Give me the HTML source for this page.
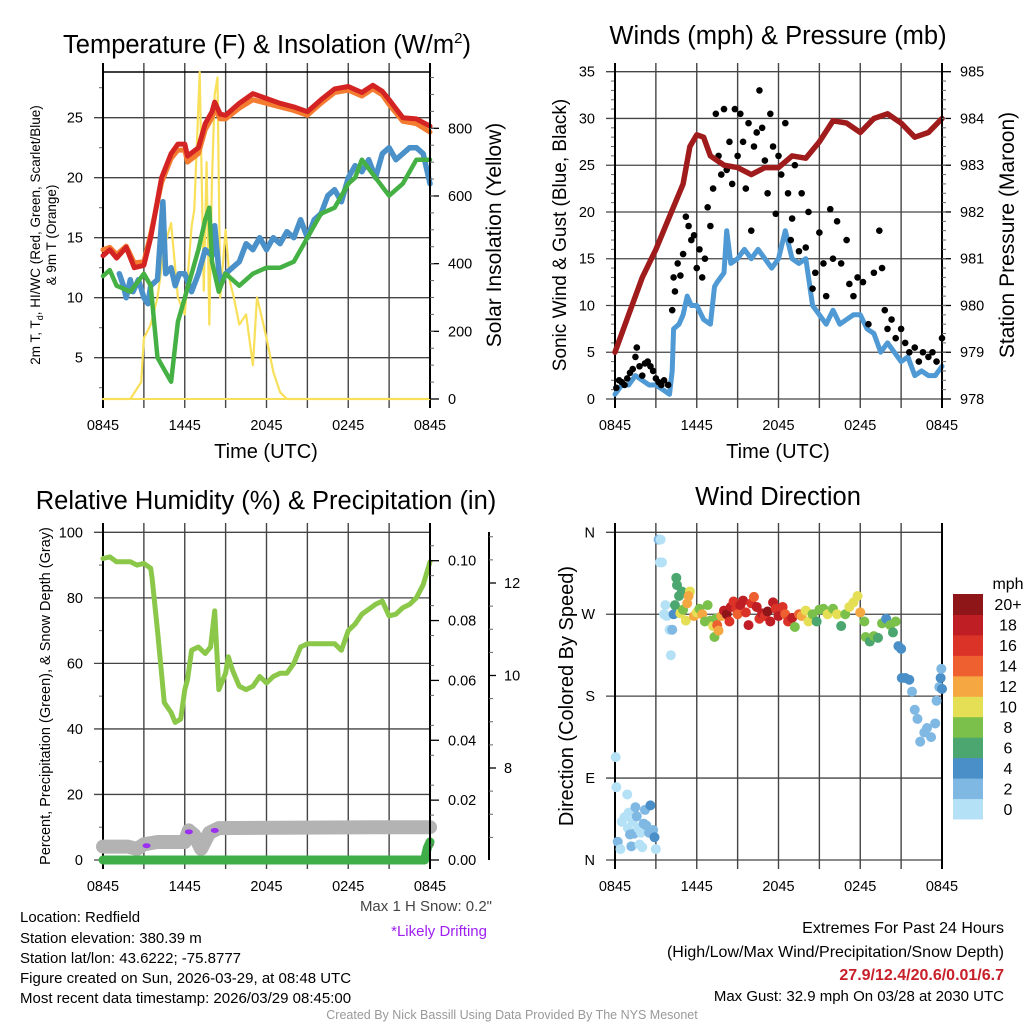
<!DOCTYPE html>
<html><head><meta charset="utf-8">
<style>
html,body{margin:0;padding:0;background:#fff;}
svg{display:block;font-family:"Liberation Sans",Arial,sans-serif;}
</style></head>
<body>
<svg id="fig" width="1024" height="1024" viewBox="0 0 1024 1024" xmlns="http://www.w3.org/2000/svg">
<rect width="1024" height="1024" fill="#fff"/>
<g id="p1"></g>
<g id="p2"></g>
<g id="p3"></g>
<g id="p4"></g>
<g id="txt">
<text x="20" y="922" font-size="15">Location: Redfield</text>
<text x="20" y="943" font-size="15">Station elevation: 380.39 m</text>
<text x="20" y="963" font-size="15">Station lat/lon: 43.6222; -75.8777</text>
<text x="20" y="983" font-size="15">Figure created on Sun, 2026-03-29, at 08:48 UTC</text>
<text x="20" y="1003" font-size="15">Most recent data timestamp: 2026/03/29 08:45:00</text>
<text x="492" y="911" font-size="15" fill="#444" text-anchor="end">Max 1 H Snow: 0.2"</text>
<text x="487" y="936" font-size="15" fill="#a020f0" text-anchor="end">*Likely Drifting</text>
<text x="512" y="1019" font-size="12.5" fill="#999" text-anchor="middle">Created By Nick Bassill Using Data Provided By The NYS Mesonet</text>
<text x="1004" y="933" font-size="16" text-anchor="end">Extremes For Past 24 Hours</text>
<text x="1004" y="957" font-size="16" text-anchor="end">(High/Low/Max Wind/Precipitation/Snow Depth)</text>
<text x="1004" y="980" font-size="16" font-weight="bold" fill="#c8202a" text-anchor="end">27.9/12.4/20.6/0.01/6.7</text>
<text x="1004" y="1001" font-size="15" text-anchor="end">Max Gust: 32.9 mph On 03/28 at 2030 UTC</text>
</g>
</svg>
<script>
// ---- data (hours since 0845 UTC) ----
const timeTicks = ["0845","1445","2045","0245","0845"];
const tempHours = [0,0.5,1,1.7,2.3,3,3.5,4.3,5,5.5,6,6.2,7,7.5,8,8.2,8.6,9,10,11,12,13,14,15,16,17,18,19,19.8,20.5,21,22,23,24];
const tempVals  = [13.5,14,13.3,14.2,12.5,12.7,15,20,22,22.8,22.8,21.8,22.5,24.5,25.5,26.3,25.3,25.2,26.2,27,26.6,26.2,25.9,25.5,26.5,27.4,27.6,27.1,27.7,27.2,26.5,25,24.9,24.3];
const temp9Vals = [14,14.2,13.6,14.3,12.9,13,15.3,19.6,21.6,22.3,22.3,21.3,22,24,25,25.8,24.9,24.9,25.8,26.5,26.2,25.9,25.6,25.2,26.2,27.1,27.3,26.8,27.4,26.9,26.1,24.7,24.5,23.8];
const wcHours = [1.2,1.5,1.7,2.0,2.2,2.6,3,3.3,3.5,4,4.4,4.6,5,5.3,5.6,6,6.5,7,7.5,8,8.2,8.6,9,9.5,10,10.5,11,11.5,12,12.5,13,13.5,14,14.5,15,15.5,16,16.5,17,17.5,18,18.5,19,19.5,20,20.5,21,21.5,22,22.5,23,23.5,24];
const wcVals  = [12,11,10,11.5,10.5,11.5,10,9.5,11,11.5,18,12,12.5,11,12,12,10.5,12,14,13.5,16,11,12,12.5,13,14.5,14,15,14,15,14.5,15.5,15,16.5,15,16.5,17,18.5,19,18,20,21,20.5,21.5,20,22,22.5,21.5,22,22.5,22.5,22,19.5];
const tdHours = [0,0.5,1,2,3,3.5,4,4.5,5,5.5,6,7,7.5,7.8,8,8.5,9,10,11,12,13,14,15,16,17,18,18.5,19,20,21,22,23,24];
const tdVals  = [11.8,12.3,11,10.5,12,11,5,4,3,8,10,14,16.5,17.5,13,10.5,12,11,12,12.5,12.5,13,15,17,17.5,19.5,20,21.5,20,18.5,19.5,21.5,21.5];
const solHours = [0,2,2.8,3,3.5,4,4.5,5,5.5,6,6.5,6.7,7.1,7.4,7.6,7.8,8,8.2,8.4,8.6,9,9.3,9.6,10,10.5,11,11.3,11.6,12,12.5,13,13.5,24];
const solVals  = [0,0,50,180,220,300,450,520,300,250,510,560,966,320,700,220,650,900,950,300,500,350,300,220,250,100,300,250,180,80,20,0,0];
const windHours = [0,0.5,1,1.5,2,2.5,3,3.5,4,4.2,4.3,4.7,5,5.3,5.6,6,6.5,7,7.3,7.5,8,8.2,8.5,9,9.5,10,10.5,11,11.5,12,12.5,13,13.5,14,14.5,15,15.5,16,16.5,17,17.5,18,18.5,19,19.5,20,20.5,21,21.5,22,22.5,23,23.5,24];
const windVals  = [0.5,1.5,1.5,2.5,2,1.5,1.5,1,0.5,3,7.5,8,9,11,10,10,8.5,8,12,12.5,13.5,18,14.5,15,16,15,16,15,14,15,18,15,14.5,15,10,9,8,9.5,8,8.5,9,9,7.5,7,5,6,5,4,4.5,2.5,3,2.5,2.5,3.5];
const presHours = [0,1,2,3,4,5,5.5,6,6.5,7,8,9,10,11,12,13,14,15,16,17,18,19,20,21,22,23,24];
const presVals  = [979,979.8,980.6,981.2,981.9,982.6,983.4,983.65,983.6,983.2,983,982.95,982.8,982.95,982.95,983.2,983.15,983.5,983.95,983.9,983.7,984,984.1,983.9,983.6,983.7,984];
const gustHours = [0.1,0.3,0.5,0.7,0.9,1.1,1.3,1.5,1.6,1.8,2,2.2,2.4,2.6,2.8,3,3.2,3.4,3.6,3.9,4.2,4.3,4.4,4.6,4.8,5,5.2,5.4,5.6,5.8,6,6.2,6.4,6.6,6.8,7,7.2,7.4,7.6,7.8,8,8.2,8.4,8.6,8.8,9,9.2,9.4,9.6,9.8,10,10.2,10.4,10.6,10.8,11,11.2,11.4,11.6,11.8,12,12.2,12.5,12.7,12.9,13,13.2,13.5,13.7,14,14.2,14.5,14.7,15,15.3,15.5,15.8,16,16.3,16.6,17,17.2,17.5,17.8,18.2,18.6,19,19.4,19.6,19.8,20,20.3,20.6,21,21.3,21.6,22,22.3,22.6,23,23.3,23.6,24];
const gustVals  = [1.2,2,1.8,1.5,2.2,2.8,3.2,4.5,5.5,3.5,2.5,3.8,4,3.5,3,2.2,1.8,1.5,2,1.5,9.5,13,11.5,14.5,13.2,15.5,19.5,18.5,17,17.5,14,16,13,15,20.5,18.5,22.5,30.5,26,24,31,24.5,27.5,23,31,26,30.5,27.5,22.5,29.5,18,27,28.5,33,29,25.5,22,30.5,27,19.8,26,24,29.5,22,17,19.3,25,15.8,22,16.2,20,11.8,13.5,17.8,14.5,11,20.3,15,19,14.5,17,12.3,11,13,12.5,8,13.5,18,14,9.5,7.5,8.5,6.5,7.5,6,5,5.5,4,5,4.5,5,4,6.5];
const rhHours = [0,0.5,1,2,2.5,3,3.5,3.6,4,4.5,5,5.3,5.7,6,6.2,6.5,7,7.5,7.9,8.2,8.5,8.8,9,9.2,9.5,10,10.5,11,11.5,12,12.5,13,13.5,14,14.5,15,16,17,17.5,18,18.5,19,20,20.5,21,21.5,22,22.5,23,23.5,24];
const rhVals  = [92,92.5,91,91,90,90.5,89,86,70,48,45,42,43,52,55,64,65,63,65,76,52,55,57,62,58,53,52,53,56,54,56,57,57,60,65,66,66,66,64,70,72,75,78,79,74.5,75,77,78,80,84,91];
const snowHours = [0,1.8,2.5,3,4,5,6,6.3,6.7,7.2,7.8,8.5,20,24];
const snowVals  = [6.3,6.3,6.25,6.35,6.4,6.4,6.4,6.65,6.55,6.25,6.6,6.7,6.72,6.72];
const driftHours = [3.2,6.3,8.2];
const driftVals  = [6.32,6.62,6.65];
const precipHours = [0,23.6,23.8,24];
const precipVals  = [0,0,0.004,0.006];
const dirHours = [0.05,0.1,0.2,0.4,0.5,0.7,0.9,0.95,1.0,1.1,1.2,1.3,1.4,1.5,1.6,1.7,1.8,1.9,2.0,2.1,2.2,2.3,2.5,2.6,2.8,2.9,3.0,3.2,3.35,3.3,3.45,3.7,3.8,3.6,4.0,4.2,4.1,4.3,4.4,4.5,4.55,4.7,4.9,4.8,5.0,5.2,5.3,5.5,5.4,5.8,6,6.2,6.4,6.6,6.8,7,7.2,7.4,7.3,7.5,7.6,7.8,8,8.2,8.4,8.5,8.7,8.9,9,9.2,9.4,9.6,9.8,10,10.2,10.4,10.6,10.8,11,11.2,11.4,11.6,11.8,12,12.3,12.5,12.7,13,13.2,13.5,13.7,14,14.2,14.5,14.8,15,15.3,15.6,16,16.3,16.6,16.9,17.2,17.5,17.8,18,18.3,18.4,18.7,19,19.3,19.6,19.9,20.2,20.4,20.6,20.8,21,21.05,21.3,21.6,21.8,22,22.2,22.4,22.7,22.9,23.2,23.5,23.6,23.8,23.9,23.95,24];
const dirVals  = [113,80,20,12,42,47,72,35,52,28,15,42,29,58,48,35,17,30,14,40,55,38,30,60,33,25,12,352,352,327,327,280,268,270,253,253,225,270,280,310,302,290,295,271,275,263,282,295,290,268,272,276,270,262,280,263,257,265,245,258,252,268,274,270,262,278,284,276,270,280,285,272,258,282,289,278,265,271,268,273,262,283,276,268,278,270,262,266,256,270,268,274,262,270,262,275,276,270,276,270,257,270,278,283,290,272,262,245,240,246,244,260,265,258,250,262,235,232,200,200,198,185,165,155,130,140,145,135,150,175,190,200,210,188];
const dirSpeeds = [0,0,3,0,0,0,1,0,1,3,3,1,3,3,3,0,1,0,1,2,3,2,3,4,3,4,1,2,1,0,1,0,1,0,0,2,0,4,6,6,6,6,6,10,8,11,12,10,12,12,10,9,12,8,8,9,10,8,8,14,12,13,18,20,16,18,16,16,14,18,18,16,18,16,14,18,16,18,16,20,18,18,16,18,16,14,16,18,8,14,12,10,10,8,6,8,8,10,8,10,6,8,10,10,10,12,8,8,6,8,6,8,4,8,6,8,4,4,4,4,4,2,2,2,2,2,2,2,2,2,2,4,2,4];
const cbLabels = ["0","2","4","6","8","10","12","14","16","18","20+"];
const cbColors = ["#b5e1f6","#7fb8e3","#4a8fc7","#4ba66f","#7bc04a","#e5df55","#f5a742","#ee6030","#db3328","#bf1e24","#8e1518"];

const NS="http://www.w3.org/2000/svg";
function el(parent,tag,attrs,text){const e=document.createElementNS(NS,tag);for(const k in attrs)e.setAttribute(k,attrs[k]);if(text!==undefined)e.textContent=text;parent.appendChild(e);return e;}
function lin(d0,d1,r0,r1){return v=>r0+(v-d0)/(d1-d0)*(r1-r0);}
function pathD(xs,ys,fx,fy){return xs.map((h,i)=>(i?"L":"M")+fx(h).toFixed(1)+","+fy(ys[i]).toFixed(1)).join("");}

function frame(g,L,R,T,B,yticks,fy,ylabs,minor){
  const fx=lin(0,24,L,R);
  yticks.forEach((v,i)=>{
    const y=fy(v);
    const ln=el(g,"line",{x1:L-9,x2:R,y1:y,y2:y,stroke:"#444","stroke-width":1.3});
    
    
    const t=el(g,"text",{x:L-20,y:y+5,"font-size":14.5,"text-anchor":"end"},ylabs[i]);
    
    
  });
  (minor||[]).forEach(v=>{const y=fy(v);const m=el(g,"line",{x1:L-4,x2:L,y1:y,y2:y,stroke:"#666","stroke-width":1});
    
    });
  for(let i=0;i<=8;i++){
    const x=fx(i*3);
    const ln=el(g,"line",{x1:x,x2:x,y1:T-9,y2:B+9,stroke:(i==0||i==8)?"#000":"#444","stroke-width":(i==0||i==8)?2:1.4});
    
    
  }
  timeTicks.forEach((s,i)=>{const t=el(g,"text",{x:fx(i*6),y:B+31,"font-size":14.5,"text-anchor":"middle"},s);
    
    });
  return fx;
}
function rightAxis(g,x,T,B,ticks,fy,labs,minor){
  const a=el(g,"line",{x1:x,x2:x,y1:T,y2:B,stroke:"#000","stroke-width":2});
  
  
  ticks.forEach((v,i)=>{const y=fy(v);el(g,"line",{x1:x,x2:x+9,y1:y,y2:y,stroke:"#000","stroke-width":1.3});
    const t=el(g,"text",{x:x+18,y:y+5,"font-size":14.5},labs[i]);
    
    });
  (minor||[]).forEach(v=>{const y=fy(v);el(g,"line",{x1:x,x2:x+4,y1:y,y2:y,stroke:"#666","stroke-width":1});});
}
function title(g,x,y,txt,name){const t=el(g,"text",{x:x,y:y,"font-size":25.5,"text-anchor":"middle"},txt);
  
  return t;}
function vlabel(g,x,y,txt,size,name){const t=el(g,"text",{x:0,y:0,"font-size":size,"text-anchor":"middle",transform:`translate(${x},${y}) rotate(-90)`},txt);
  
  return t;}
function line(g,d,color,w,name){const p=el(g,"path",{d:d,fill:"none",stroke:color,"stroke-width":w,"stroke-linejoin":"round","stroke-linecap":"round"});
  
  return p;}
function range(a,b,s){const r=[];for(let v=a;v<=b+1e-9;v+=s)r.push(+v.toFixed(4));return r;}

// ---------- Panel 1 ----------
(function(){
  const g=document.getElementById("p1"),L=103,R=430,T=72,B=399;
  const fy=lin(5,25,357.7,117.7), fs=lin(0,800,399,128.3);
  const fx=frame(g,L,R,T,B,[5,10,15,20,25],fy,["5","10","15","20","25"],range(2.5,27.5,5));
  el(g,"line",{x1:L,x2:R,y1:T,y2:T,stroke:"#000","stroke-width":1.5});
  el(g,"line",{x1:L,x2:R,y1:B,y2:B,stroke:"#000","stroke-width":1.5});
  line(g,pathD(solHours,solVals,fx,fs),"#f9e05a",2.2,"insolation-line");
  line(g,pathD(tempHours,temp9Vals,fx,fy),"#f47c30",5,"temp-9m-line");
  line(g,pathD(tempHours,tempVals,fx,fy),"#d42323",5,"temp-2m-line");
  line(g,pathD(wcHours,wcVals,fx,fy),"#4a90c9",5.5,"windchill-line");
  line(g,pathD(tdHours,tdVals,fx,fy),"#45b043",4.5,"dewpoint-line");
  el(g,"line",{x1:L,x2:R,y1:B,y2:B,stroke:"#f9e05a","stroke-width":2});
  rightAxis(g,R,T,B,[0,200,400,600,800],fs,["0","200","400","600","800"],range(50,950,50));
  const t=title(g,267,53,"Temperature (F) & Insolation (W/m");
  
  el(t,"tspan",{dy:-10,"font-size":15},"2");
  el(t,"tspan",{dy:10,"font-size":25.5},")");
  vlabel(g,40,235,"2m T, T",13.5,"left-axis-title-line1");
  const v1=g.lastChild; el(v1,"tspan",{dy:3,"font-size":9},"d"); el(v1,"tspan",{dy:-3},", HI/WC (Red, Green, Scarlet/Blue)");
  vlabel(g,56,235,"& 9m T (Orange)",13.5,"left-axis-title-line2");
  vlabel(g,501,235,"Solar Insolation (Yellow)",21,"insolation-axis-title");
  const xt=el(g,"text",{x:266,y:458,"font-size":20,"text-anchor":"middle"},"Time (UTC)");
  
  
})();

// ---------- Panel 2 ----------
(function(){
  const g=document.getElementById("p2"),L=615,R=942,T=72,B=399;
  const fy=lin(0,35,399,71.7), fp=lin(978,985,399,71.7);
  const fx=frame(g,L,R,T,B,[0,5,10,15,20,25,30,35],fy,["0","5","10","15","20","25","30","35"],range(1,34,1));
  line(g,pathD(windHours,windVals,fx,fy),"#4f9ad5",5,"sonic-wind-line");
  gustHours.forEach((h,i)=>{const c=el(g,"circle",{cx:fx(h),cy:fy(gustVals[i]),r:3.3,fill:"#000"});
    
    });
  line(g,pathD(presHours,presVals,fx,fp),"#a01b1b",5.5,"pressure-line");
  rightAxis(g,R,T,B,[978,979,980,981,982,983,984,985],fp,["978","979","980","981","982","983","984","985"],range(978.2,984.8,0.2));
  title(g,778,44,"Winds (mph) & Pressure (mb)","winds-title");
  vlabel(g,566,235,"Sonic Wind & Gust (Blue, Black)",19,"wind-axis-title");
  vlabel(g,1014,235,"Station Pressure (Maroon)",21,"pressure-axis-title");
  const xt=el(g,"text",{x:778,y:458,"font-size":20,"text-anchor":"middle"},"Time (UTC)");
  
  
})();

// ---------- Panel 3 ----------
(function(){
  const g=document.getElementById("p3"),L=103,R=430,T=532,B=860;
  const fy=lin(0,100,860,532.3), fr=lin(0,0.1,860,560.7), fsn=lin(8,12,768,583);
  const fx=frame(g,L,R,T,B,[0,20,40,60,80,100],fy,["0","20","40","60","80","100"],range(10,90,20));
  line(g,pathD(snowHours,snowVals,fx,fsn),"#b3b3b3",14,"snow-depth-line");
  driftHours.forEach((h,i)=>{const c=el(g,"ellipse",{cx:fx(h),cy:fsn(driftVals[i]),rx:4,ry:2.5,fill:"#9b30f0"});
    
    });
  line(g,pathD(precipHours,precipVals,fx,fr),"#3fae49",9,"precip-line");
  line(g,pathD(rhHours,rhVals,fx,fy),"#8bc84a",5,"rh-line");
  rightAxis(g,R,T,B,[0,0.02,0.04,0.06,0.08,0.1],fr,["0.00","0.02","0.04","0.06","0.08","0.10"],range(0.005,0.105,0.01));
  const ax=el(g,"line",{x1:489,x2:489,y1:532,y2:860,stroke:"#000","stroke-width":2});
  
  
  [8,10,12].forEach(v=>{const y=fsn(v);el(g,"line",{x1:489,x2:496,y1:y,y2:y,stroke:"#000","stroke-width":1.3});
    const t=el(g,"text",{x:504,y:y+5,"font-size":14.5},String(v));
    
    });
  range(6.5,13,0.5).forEach(v=>{if(v%2){const y=fsn(v);el(g,"line",{x1:489,x2:493,y1:y,y2:y,stroke:"#666","stroke-width":1});}});
  title(g,266,509,"Relative Humidity (%) & Precipitation (in)","humidity-title");
  vlabel(g,50,696,"Percent, Precipitation (Green), & Snow Depth (Gray)",14.5,"humidity-axis-title");
})();

// ---------- Panel 4 ----------
(function(){
  const g=document.getElementById("p4"),L=615,R=942,T=532,B=860;
  const fy=lin(0,360,860,532.3);
  const fx=frame(g,L,R,T,B,[0,90,180,270,360],fy,["N","E","S","W","N"]);
  dirHours.forEach((h,i)=>{const b=Math.min(10,Math.floor(dirSpeeds[i]/2));
    const c=el(g,"circle",{cx:fx(h),cy:fy(dirVals[i]),r:5,fill:cbColors[b]});
    
    });
  title(g,778,505,"Wind Direction","direction-title");
  vlabel(g,573,696,"Direction (Colored By Speed)",20,"direction-axis-title");
  const cb=el(g,"g",{});
  
  
  const h=(819-594)/11;
  cbLabels.forEach((lab,i)=>{const y=819-(i+1)*h;
    const r=el(cb,"rect",{x:953,y:y,width:30,height:h+0.5,fill:cbColors[i]});
    
    
    const t=el(cb,"text",{x:1008,y:y+h/2+6,"font-size":16,"text-anchor":"middle"},lab);
    
    });
  const u=el(cb,"text",{x:1008,y:589,"font-size":16,"text-anchor":"middle"},"mph");
  
  
})();
</script>
</body></html>
